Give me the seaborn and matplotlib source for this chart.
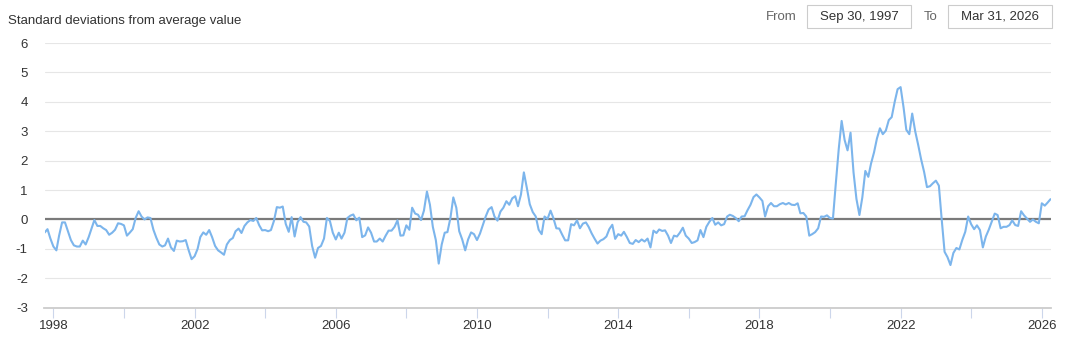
import numpy as np
import pandas as pd
import matplotlib
matplotlib.use("Agg")
import matplotlib.pyplot as plt
import seaborn as sns
from matplotlib.patches import Rectangle

sns.set_theme(style="white")
plt.rcParams['font.family'] = ['Liberation Sans', 'DejaVu Sans']
plt.rcParams['axes.unicode_minus'] = False

# ---------------- data (monthly, month-end) ----------------
start_date = "1997-09-30"

vals_1997_2001 = [
    -0.45, -0.33, -0.65, -0.92,
    -1.05, -0.55, -0.10, -0.10, -0.40, -0.70, -0.88, -0.92, -0.92, -0.72, -0.85, -0.60,
    -0.30, -0.02, -0.22, -0.22, -0.30, -0.36, -0.52, -0.45, -0.35, -0.13, -0.15, -0.20,
    -0.55, -0.45, -0.33, 0.05, 0.28, 0.10, 0.00, 0.07, 0.05, -0.35, -0.62, -0.85,
    -0.92, -0.88, -0.65, -0.95, -1.07, -0.72, -0.75, -0.74, -0.70, -1.05, -1.35, -1.25,
]
vals_2002_2007 = [
    -1.00, -0.60, -0.44, -0.52, -0.36, -0.60, -0.90, -1.05, -1.12, -1.20, -0.85, -0.70,
    -0.63, -0.40, -0.31, -0.46, -0.22, -0.10, -0.02, -0.05, 0.05, -0.20, -0.37, -0.36,
    -0.40, -0.36, -0.05, 0.42, 0.40, 0.44, -0.15, -0.42, 0.08, -0.58, -0.10, 0.08,
    -0.08, -0.10, -0.24, -0.90, -1.30, -0.97, -0.90, -0.65, 0.05, -0.05, -0.45, -0.68,
    -0.45, -0.65, -0.45, 0.05, 0.13, 0.17, -0.03, 0.06, -0.60, -0.54, -0.27, -0.45,
    -0.75, -0.75, -0.65, -0.75, -0.55, -0.38, -0.38, -0.25, -0.03, -0.55, -0.54, -0.20,
]
vals_2008_2013 = [
    -0.35, 0.40, 0.20, 0.16, -0.02, 0.30, 0.95, 0.50, -0.25, -0.70, -1.50, -0.85,
    -0.45, -0.43, 0.05, 0.75, 0.40, -0.40, -0.68, -1.05, -0.68, -0.44, -0.50, -0.70,
    -0.48, -0.20, 0.10, 0.34, 0.42, 0.10, -0.04, 0.27, 0.40, 0.62, 0.50, 0.72,
    0.79, 0.45, 0.85, 1.60, 1.07, 0.52, 0.25, 0.10, -0.35, -0.50, 0.10, 0.02,
    0.30, 0.05, -0.30, -0.31, -0.52, -0.71, -0.71, -0.16, -0.20, -0.03, -0.30, -0.14,
    -0.10, -0.25, -0.47, -0.65, -0.82, -0.72, -0.67, -0.58, -0.33, -0.18, -0.66, -0.50,
]
vals_2014_2019 = [
    -0.55, -0.42, -0.60, -0.80, -0.83, -0.70, -0.77, -0.68, -0.75, -0.65, -0.95, -0.38,
    -0.46, -0.34, -0.39, -0.37, -0.55, -0.80, -0.55, -0.58, -0.45, -0.28, -0.55, -0.65,
    -0.80, -0.77, -0.71, -0.36, -0.60, -0.25, -0.08, 0.05, -0.18, -0.10, -0.20, -0.16,
    0.10, 0.16, 0.12, 0.05, -0.06, 0.10, 0.11, 0.32, 0.50, 0.76, 0.85, 0.75,
    0.63, 0.10, 0.45, 0.56, 0.45, 0.45, 0.52, 0.56, 0.51, 0.56, 0.50, 0.49,
    0.55, 0.21, 0.22, 0.10, -0.55, -0.50, -0.43, -0.30, 0.10, 0.09, 0.14, 0.05,
]
vals_2020_2026 = [
    0.03, 1.20, 2.40, 3.35, 2.70, 2.35, 2.95, 1.60, 0.70, 0.15, 0.75, 1.65,
    1.45, 1.90, 2.28, 2.75, 3.10, 2.90, 3.02, 3.38, 3.48, 4.00, 4.43, 4.50,
    3.80, 3.05, 2.90, 3.60, 3.00, 2.55, 2.05, 1.62, 1.10, 1.13, 1.23, 1.32,
    1.15, 0.05, -1.10, -1.28, -1.55, -1.14, -0.97, -1.02, -0.70, -0.42, 0.10, -0.16,
    -0.33, -0.20, -0.36, -0.95, -0.58, -0.35, -0.08, 0.20, 0.15, -0.30, -0.25, -0.25,
    -0.19, -0.03, -0.19, -0.22, 0.28, 0.14, 0.03, -0.08, 0.00, -0.08, -0.13, 0.55,
    0.47, 0.57, 0.69,
]

y_ticks = [-3, -2, -1, 0, 1, 2, 3, 4, 5, 6]
tick_years = list(range(1998, 2027, 2))
label_years = list(range(1998, 2027, 4))

title_text = "Standard deviations from average value"
from_text, from_date = "From", "Sep 30, 1997"
to_text, to_date = "To", "Mar 31, 2026"

values = vals_1997_2001 + vals_2002_2007 + vals_2008_2013 + vals_2014_2019 + vals_2020_2026
dates = pd.date_range(start_date, periods=len(values), freq="ME")
df = pd.DataFrame({"date": dates, "value": values})

# ---------------- figure ----------------
W, H = 1072, 339
fig = plt.figure(figsize=(W / 100, H / 100), dpi=100)
fig.patch.set_facecolor("white")

ax_left, ax_right, ax_top, ax_bottom = 44.5, 1050.5, 43.0, 307.7
ax = fig.add_axes([ax_left / W, 1 - ax_bottom / H, (ax_right - ax_left) / W, (ax_bottom - ax_top) / H])
ax.set_facecolor("white")
ax.set_axisbelow(True)

ax.set_ylim(-3, 6)
ax.set_yticks(y_ticks)
ax.yaxis.grid(True, color="#e6e6e6", lw=0.8)
ax.xaxis.grid(False)

ax.axhline(0, color="#7a7a7a", lw=1.6, zorder=2)
sns.lineplot(data=df, x="date", y="value", ax=ax, color="#7cb5ec", lw=1.5, zorder=3)

ax.set_xlim(dates[0], dates[-1])
ticks = [pd.Timestamp(f"{y}-01-01") for y in tick_years]
ax.set_xticks(ticks)
ax.set_xticklabels([str(y) if y in label_years else "" for y in tick_years])

ax.set_xlabel("")
ax.set_ylabel("")

for s in ["top", "right", "left"]:
    ax.spines[s].set_visible(False)
ax.spines["bottom"].set_color("#cccccc")
ax.spines["bottom"].set_linewidth(1.3)

ax.tick_params(axis="x", direction="out", length=7.2, width=0.8, color="#ccd6eb",
               labelsize=9.5, labelcolor="#333333", pad=1.5, bottom=True)
ax.tick_params(axis="y", length=0, labelsize=9.5, labelcolor="#333333", pad=12)

# title
fig.text(8 / W, 1 - 21 / H, title_text, ha="left", va="center", fontsize=9.5, color="#333333")

# range selector
def box(x0, x1, y0, y1, txt):
    fig.add_artist(Rectangle((x0 / W, 1 - y1 / H), (x1 - x0) / W, (y1 - y0) / H,
                             transform=fig.transFigure, facecolor="white",
                             edgecolor="#cccccc", lw=0.8))
    fig.text((x0 + x1) / 2 / W, 1 - (y0 + y1) / 2 / H, txt, ha="center", va="center",
             fontsize=9.5, color="#333333")

fig.text(781 / W, 1 - 16.5 / H, from_text, ha="center", va="center", fontsize=9.5, color="#666666")
box(807.3, 910.7, 5.0, 28.3, from_date)
fig.text(931 / W, 1 - 16.5 / H, to_text, ha="center", va="center", fontsize=9.5, color="#666666")
box(948.3, 1051.7, 5.0, 28.3, to_date)

fig.savefig("out.png", dpi=100, facecolor="white")
